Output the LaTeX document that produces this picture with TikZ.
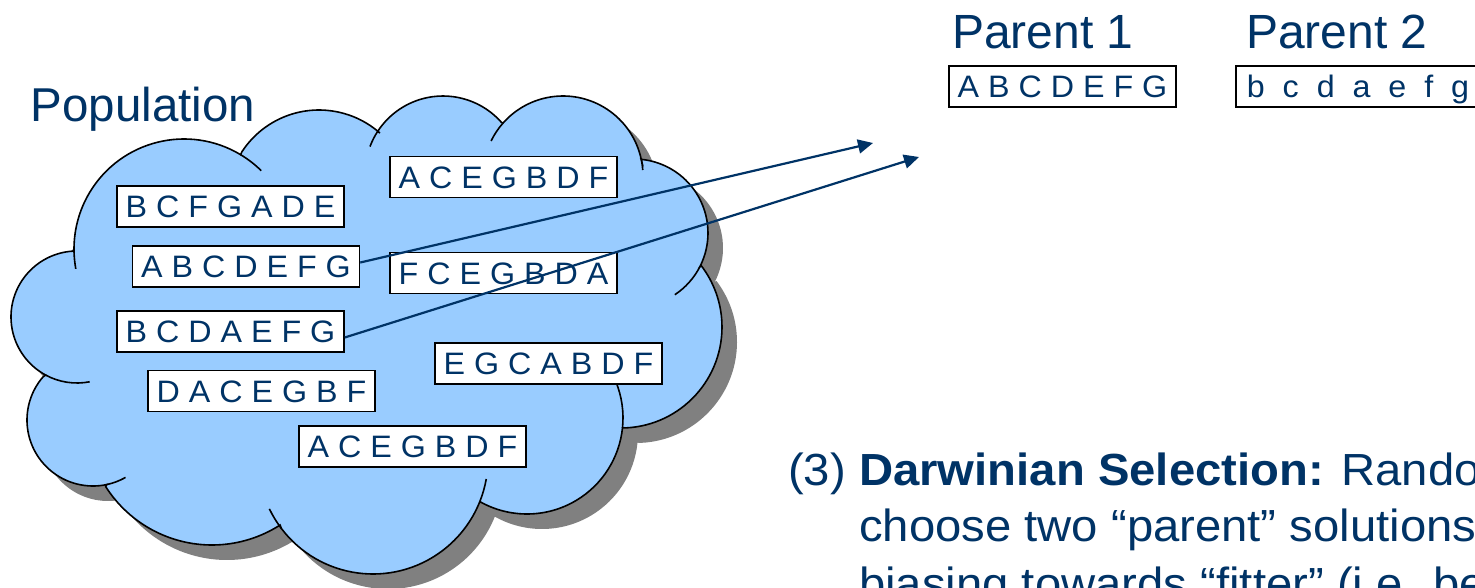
\documentclass[tikz,border=0pt]{standalone}
\usepackage{fontspec}
\setmainfont{Liberation Sans}
\usetikzlibrary{arrows.meta}
\definecolor{txtblue}{RGB}{0,51,102}
\definecolor{cloudblue}{RGB}{153,204,255}
\definecolor{shadowgray}{RGB}{128,128,128}
\newcommand\hstr[2]{\scalebox{#1}[1]{#2}}
\newcommand\genefont{\fontsize{31}{37}\selectfont}
\newcommand\headfont{\fontsize{48}{56}\selectfont}
\newcommand\popfont{\fontsize{47.5}{56}\selectfont}
\newcommand\bodyfont{\fontsize{45}{54}\selectfont}
\begin{document}
\begin{tikzpicture}[x=1pt,y=-1pt,
  lobe/.style n args={5}{insert path={-- ([shift={(#4:#3)}]#1,#2) arc[start angle=#4,end angle=#5,radius=#3]}},
  cloudtick/.style n args={5}{insert path={([shift={(#4:#3)}]#1,#2) arc[start angle=#4,end angle=#5,radius=#3]}},
  cloudpath/.style={insert path={(73,251)
    [lobe={77}{317}{66}{266.5}{118.4}]
    [lobe={93}{420}{66}{220.6}{78}]
    [lobe={212}{419}{126}{147.5}{57.3}]
    [lobe={373}{459}{115}{142.8}{21.9}]
    [lobe={527}{418}{96}{119.2}{5.8}]
    [lobe={621}{327}{101}{87.2}{-37.2}]
    [lobe={634}{233}{74}{27.3}{-84.5}]
    [lobe={563}{176}{80}{-11.6}{-138.5}]
    [lobe={443}{174}{78}{-41.4}{-146.9}]
    [lobe={319}{202}{92}{-48.5}{-147}]
    [lobe={184}{249}{110}{-59}{-181.5}]
    -- cycle}},
  cloudline/.style={draw=black, line width=1.6},
  gene/.style={draw=black, fill=white, line width=1.5, minimum width=227pt, minimum height=41pt,
    inner sep=0pt, text height=22pt, text depth=0pt, font=\genefont, text=txtblue},
  label/.style={anchor=base west, inner sep=0pt, text=txtblue},
  arr/.style={draw=txtblue, line width=2.2, -{Triangle[length=15pt,width=14pt]}}
]
\useasboundingbox (0,0) rectangle (1475,587);
\clip (0,0) rectangle (1475,587);
\fill[white] (0,0) rectangle (1475,587);

% cloud
\fill[shadowgray, shift={(15,15)}] [cloudpath];
\filldraw[fill=cloudblue, cloudline] [cloudpath];
\draw[cloudline] [cloudtick={184}{249}{110}{-59}{-45.4}];
\draw[cloudline] [cloudtick={184}{249}{110}{-181.5}{-190.4}];
\draw[cloudline] [cloudtick={77}{317}{66}{118.4}{78.9}];
\draw[cloudline] [cloudtick={93}{420}{66}{78}{60.5}];
\draw[cloudline] [cloudtick={373}{459}{115}{154.3}{142.8}];
\draw[cloudline] [cloudtick={373}{459}{115}{21.9}{10}];
\draw[cloudline] [cloudtick={527}{418}{96}{5.8}{-22.1}];
\draw[cloudline] [cloudtick={634}{233}{74}{56.5}{27.3}];
\draw[cloudline] [cloudtick={563}{176}{80}{-4.3}{-11.6}];
\draw[cloudline] [cloudtick={563}{176}{80}{-138.5}{-154}];
\draw[cloudline] [cloudtick={443}{174}{78}{-146.9}{-159.4}];

% labels
\node[label, font=\popfont] (pop) at (30.5,121) {Population};
\node[label, font=\headfont] (par1) at (952,48.3) {Parent 1};
\node[label, font=\headfont] (par2) at (1246,48.3) {Parent 2};

% population members
\node[gene] (b1) at (503.5,177) {\hstr{1.04}{A C E G B D F}};
\node[gene] (b2) at (230.5,206.5) {\hstr{1.04}{B C F G A D E}};
\node[gene] (b3) at (246,266.5) {\hstr{1.04}{A B C D E F G}};
\node[gene] (b4) at (503.5,273) {\hstr{1.04}{F C E G B D A}};
\node[gene] (b5) at (230.5,331.5) {\hstr{1.04}{B C D A E F G}};
\node[gene] (b6) at (548.5,363.5) {\hstr{1.04}{E G C A B D F}};
\node[gene] (b7) at (261.5,391) {\hstr{1.04}{D A C E G B F}};
\node[gene] (b8) at (412.5,446.5) {\hstr{1.04}{A C E G B D F}};

% parents
\node[gene] (p1) at (1062.5,86.5) {\hstr{1.04}{A B C D E F G}};
\node[gene, minimum width=244pt] (p2) at (1358,86.5) {\hstr{1.04}{b\ \ c\ \ d\ \ a\ \ e\ \ f\ \ g}};

% selection arrows
\coordinate (t1) at (873,143);
\coordinate (t2) at (919,157);
\draw[arr] (b3.2) -- (t1);
\draw[arr] (b5.-3) -- (t2);

% text
\node[label, font=\bodyfont] (n3) at (788,485) {\hstr{1.05}{(3)}};
\node[label, font=\bodyfont] (l1) at (859,485) {\hstr{1.05}{\textbf{Darwinian Selection:} Rando}};
\node[label, font=\bodyfont] (l2) at (859,541) {\hstr{1.05}{choose two “parent” solutions}};
\node[label, font=\bodyfont] (l3) at (859,599) {\hstr{1.05}{biasing towards “fitter” (i.e. be}};
\end{tikzpicture}
\end{document}
